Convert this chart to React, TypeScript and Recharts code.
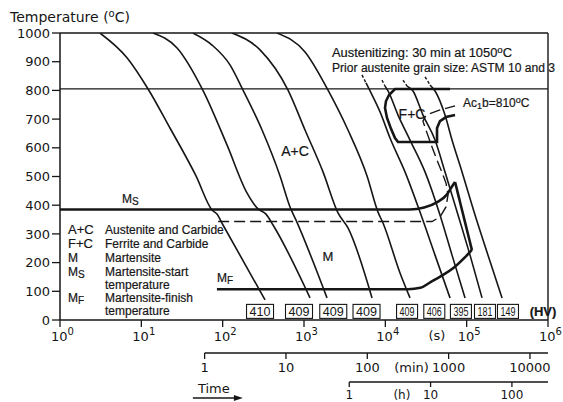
import React from "react";
import {
  ComposedChart,
  Line,
  Scatter,
  XAxis,
  YAxis,
  ReferenceLine,
  ReferenceDot,
} from "recharts";

// CCT diagram: time in seconds, temperature in °C
const curveA = [
  { t: 3.1, T: 1000 }, { t: 6.7, T: 913 }, { t: 12.1, T: 805 }, { t: 22.5, T: 669 },
  { t: 47, T: 502 }, { t: 74, T: 383 }, { t: 85, T: 369 }, { t: 101, T: 331 }, { t: 332, T: 70 },
];
const curveB = [
  { t: 13.9, T: 1000 }, { t: 27.5, T: 948 }, { t: 57, T: 801 }, { t: 113, T: 610 },
  { t: 199, T: 443 }, { t: 272, T: 387 }, { t: 341, T: 369 }, { t: 416, T: 331 }, { t: 1186, T: 77 },
];
const curveC = [
  { t: 43, T: 1000 }, { t: 74, T: 958 }, { t: 123, T: 889 }, { t: 178, T: 801 },
  { t: 305, T: 662 }, { t: 507, T: 502 }, { t: 673, T: 394 }, { t: 798, T: 348 }, { t: 1918, T: 77 },
];
const curveD = [
  { t: 130, T: 1000 }, { t: 288, T: 941 }, { t: 636, T: 801 }, { t: 1029, T: 662 },
  { t: 1713, T: 516 }, { t: 2618, T: 373 }, { t: 3474, T: 321 }, { t: 6860, T: 77 },
];
const curveE = [
  { t: 466, T: 1000 }, { t: 1029, T: 934 }, { t: 1973, T: 801 }, { t: 3474, T: 662 },
  { t: 5957, T: 502 }, { t: 8128, T: 376 }, { t: 9360, T: 338 }, { t: 15150, T: 164 }, { t: 20110, T: 77 },
];
const curveF = [
  { t: 5785, T: 826 }, { t: 6490, T: 798 }, { t: 8610, T: 725 }, { t: 11420, T: 634 },
  { t: 17460, T: 516 }, { t: 26690, T: 376 }, { t: 40840, T: 226 }, { t: 62400, T: 77 },
];
const curveG = [
  { t: 9910, T: 815 }, { t: 10790, T: 798 }, { t: 14320, T: 714 }, { t: 20110, T: 627 },
  { t: 30760, T: 516 }, { t: 47000, T: 366 }, { t: 66070, T: 226 }, { t: 95500, T: 77 },
];
const curveH = [
  { t: 18490, T: 815 }, { t: 21880, T: 798 }, { t: 29040, T: 714 }, { t: 40840, T: 627 },
  { t: 54190, T: 516 }, { t: 78300, T: 366 }, { t: 110000, T: 226 }, { t: 154500, T: 77 },
];
const curveI = [
  { t: 35420, T: 819 }, { t: 40840, T: 798 }, { t: 54190, T: 714 }, { t: 66070, T: 627 },
  { t: 87700, T: 516 }, { t: 126700, T: 366 }, { t: 183000, T: 226 }, { t: 272000, T: 77 },
];
const coolingCurves = [curveA, curveB, curveC, curveD, curveE, curveF, curveG, curveH, curveI];

// dashed starts of the slow curves
const leadF = [{ t: 5167, T: 854 }, { t: 5785, T: 826 }];
const leadG = [{ t: 9100, T: 836 }, { t: 9910, T: 815 }];
const leadH = [{ t: 16490, T: 836 }, { t: 18490, T: 815 }];
const leadI = [{ t: 30760, T: 847 }, { t: 35420, T: 819 }];
const leads = [leadF, leadG, leadH, leadI];

// martensite start / finish and the field boundaries
const msLine = [
  { t: 1, T: 385 }, { t: 20000, T: 385 }, { t: 30000, T: 392 }, { t: 43000, T: 410 },
  { t: 57000, T: 437 }, { t: 66000, T: 465 }, { t: 72000, T: 481 },
];
const mRight = [{ t: 72000, T: 481 }, { t: 116000, T: 244 }];
const mfLine = [
  { t: 85, T: 107 }, { t: 19000, T: 107 }, { t: 27000, T: 112 }, { t: 36000, T: 132 },
  { t: 52000, T: 158 }, { t: 68000, T: 180 }, { t: 95000, T: 218 }, { t: 116000, T: 244 },
];
const fcBoundary = [
  { t: 62400, T: 805 }, { t: 13150, T: 805 }, { t: 11100, T: 784 }, { t: 10190, T: 763 },
  { t: 9910, T: 739 }, { t: 10490, T: 704 }, { t: 11750, T: 666 }, { t: 13150, T: 634 },
  { t: 14320, T: 620 }, { t: 43200, T: 620 }, { t: 43200, T: 669 }, { t: 47000, T: 693 },
  { t: 55700, T: 707 }, { t: 72000, T: 714 },
];
const coarseGrain = [
  { t: 88, T: 343 }, { t: 37500, T: 343 }, { t: 47000, T: 359 }, { t: 55700, T: 394 },
  { t: 59000, T: 436 }, { t: 55700, T: 477 }, { t: 48400, T: 523 }, { t: 43200, T: 557 },
  { t: 37500, T: 603 }, { t: 32500, T: 652 }, { t: 29000, T: 693 }, { t: 31600, T: 714 },
  { t: 47000, T: 732 }, { t: 72000, T: 746 },
];

const ac1b = 805;
const hvValues = ["410", "409", "409", "409", "409", "406", "395", "181", "149"];
const hvTimes = [288, 868, 2290, 5870, 18500, 40000, 85000, 168000, 322000];
const hvLevel = 30;
const hvData = hvTimes.map((t, i) => ({ t, T: hvLevel, hv: hvValues[i] }));

const tempTicks = [0, 100, 200, 300, 400, 500, 600, 700, 800, 900, 1000];
const secTicks = [1, 10, 100, 1e3, 1e4, 1e5, 1e6];
const minTicks = [1, 10, 100, 1000, 10000];
const hourTicks = [1, 10, 100];
const secUnitAt = 43000;
const minUnitAt = 21000;
const hourUnitAt = 16000;
const timeLabelAt = 78;

const W = 563;
const H = 402;
const MARGIN = { top: 33, right: 15, left: 0, bottom: 0 };
const PLOT_RIGHT = W - MARGIN.right;
const INK = "#161616";
const FONT = "'Liberation Sans', Arial, Helvetica, sans-serif";
const NUM_FONT = "'DejaVu Sans', Verdana, sans-serif";
const TICK_OFF = 8; // tickSize + tickMargin

function SecTick(props: any) {
  const { x, y, payload } = props;
  const v = payload.value;
  const ay = y - TICK_OFF;
  if (v === secUnitAt) {
    return (
      <text x={x} y={ay + 20} textAnchor="middle" fontFamily={NUM_FONT} fontSize={13} fill={INK}>
        (s)
      </text>
    );
  }
  const exp = Math.round(Math.log10(v));
  return (
    <g>
      <line x1={x} x2={x} y1={ay} y2={ay + 7} stroke={INK} strokeWidth={1.3} />
      <text x={x - 9} y={ay + 21} fontFamily={NUM_FONT} fontSize={13} fill={INK}>
        10
        <tspan fontSize={10} dy={-6}>{exp}</tspan>
      </text>
    </g>
  );
}

function MinTick(props: any) {
  const { x, y, payload } = props;
  const v = payload.value;
  const ay = y - TICK_OFF;
  if (v === minUnitAt) {
    return (
      <text x={x} y={ay + 19} textAnchor="middle" fontFamily={NUM_FONT} fontSize={13} fill={INK}>
        (min)
      </text>
    );
  }
  return (
    <g>
      {v === minTicks[0] * 60 && (
        <line x1={x} x2={PLOT_RIGHT} y1={ay} y2={ay} stroke={INK} strokeWidth={1.5} />
      )}
      <line x1={x} x2={x} y1={ay} y2={ay + 6} stroke={INK} strokeWidth={1.3} />
      <text x={x} y={ay + 19} textAnchor="middle" fontFamily={NUM_FONT} fontSize={13} fill={INK}>
        {v / 60}
      </text>
    </g>
  );
}

function HourTick(props: any) {
  const { x, y, payload } = props;
  const v = payload.value;
  const ay = y - TICK_OFF;
  if (v === timeLabelAt) {
    return (
      <g>
        <text x={x} y={ay + 11} textAnchor="middle" fontFamily={NUM_FONT} fontSize={13} fill={INK}>
          Time
        </text>
        <line x1={x - 21} x2={x + 22} y1={ay + 16} y2={ay + 16} stroke={INK} strokeWidth={1.3} />
        <path d={`M${x + 29},${ay + 16} l-9,-3 v6 z`} fill={INK} />
      </g>
    );
  }
  if (v === hourUnitAt) {
    return (
      <text x={x} y={ay + 17} textAnchor="middle" fontFamily={NUM_FONT} fontSize={12} fill={INK}>
        (h)
      </text>
    );
  }
  return (
    <g>
      {v === hourTicks[0] * 3600 && (
        <line x1={x} x2={PLOT_RIGHT} y1={ay} y2={ay} stroke={INK} strokeWidth={1.5} />
      )}
      <line x1={x} x2={x} y1={ay} y2={ay + 5} stroke={INK} strokeWidth={1.3} />
      <text x={x} y={ay + 17} textAnchor="middle" fontFamily={NUM_FONT} fontSize={12} fill={INK}>
        {v / 3600}
      </text>
    </g>
  );
}

function HvBox(props: any) {
  const { cx, cy, payload } = props;
  if (cx == null || cy == null || !payload) return null;
  const i = hvTimes.indexOf(payload.t);
  const w = i < 4 ? 27 : 21;
  const h = 14;
  return (
    <g>
      <rect x={cx - w / 2} y={cy - h / 2} width={w} height={h} fill="#fff" stroke={INK} strokeWidth={1.1} />
      <text
        x={cx}
        y={cy + 4.5}
        textAnchor="middle"
        fontFamily={FONT}
        fontSize={13}
        fill={INK}
        textLength={w - 6}
        lengthAdjust="spacingAndGlyphs"
      >
        {payload.hv}
      </text>
    </g>
  );
}

function note(key: string, t: number, T: number, draw: (x: number, y: number) => React.ReactNode) {
  return (
    <ReferenceDot
      key={key}
      x={t}
      y={T}
      r={0}
      fill="none"
      stroke="none"
      ifOverflow="visible"
      label={(p: any) => <g>{draw(p?.viewBox?.x ?? 0, p?.viewBox?.y ?? 0)}</g>}
    />
  );
}

const txt = { fill: INK, fontFamily: FONT, fontSize: 12, stroke: INK, strokeWidth: 0.2 };

export default function App() {
  return (
    <div style={{ position: "absolute", left: 0, top: 0, background: "#fff" }}>
      <ComposedChart width={W} height={H} margin={MARGIN}>
        <XAxis
          dataKey="t"
          type="number"
          scale="log"
          domain={[1, 1e6]}
          allowDataOverflow
          ticks={[...secTicks, secUnitAt]}
          interval={0}
          tickSize={6}
          tickMargin={2}
          tickLine={false}
          axisLine={{ stroke: INK, strokeWidth: 1.5 }}
          tick={<SecTick />}
          height={33}
        />
        <XAxis
          xAxisId="x2min"
          dataKey="t"
          type="number"
          scale="log"
          domain={[1, 1e6]}
          allowDataOverflow
          ticks={[...minTicks.map((m) => m * 60), minUnitAt]}
          interval={0}
          tickSize={6}
          tickMargin={2}
          tickLine={false}
          axisLine={false}
          tick={<MinTick />}
          height={29}
        />
        <XAxis
          xAxisId="x3h"
          dataKey="t"
          type="number"
          scale="log"
          domain={[1, 1e6]}
          allowDataOverflow
          ticks={[timeLabelAt, ...hourTicks.map((h) => h * 3600), hourUnitAt]}
          interval={0}
          tickSize={6}
          tickMargin={2}
          tickLine={false}
          axisLine={false}
          tick={<HourTick />}
          height={20}
        />
        <YAxis
          dataKey="T"
          type="number"
          domain={[0, 1000]}
          allowDataOverflow
          ticks={tempTicks}
          interval={0}
          width={60}
          tickSize={8}
          tickMargin={2}
          tickLine={{ stroke: INK, strokeWidth: 1.3 }}
          axisLine={{ stroke: INK, strokeWidth: 1.5 }}
          tick={{ fontSize: 13, fill: INK, fontFamily: NUM_FONT }}
        />

        <ReferenceLine y={1000} stroke={INK} strokeWidth={1.4} />
        <ReferenceLine x={1e6} stroke={INK} strokeWidth={1.4} />
        <ReferenceLine y={ac1b} stroke={INK} strokeWidth={1.3} />

        {coolingCurves.map((c, i) => (
          <Line
            key={`c${i}`}
            data={c}
            dataKey="T"
            type="monotone"
            dot={false}
            activeDot={false}
            stroke={INK}
            strokeWidth={1.6}
            isAnimationActive={false}
          />
        ))}
        {leads.map((c, i) => (
          <Line
            key={`l${i}`}
            data={c}
            dataKey="T"
            type="linear"
            dot={false}
            activeDot={false}
            stroke={INK}
            strokeWidth={1.4}
            strokeDasharray="3 2"
            isAnimationActive={false}
          />
        ))}
        <Line data={coarseGrain} dataKey="T" type="linear" dot={false} activeDot={false}
          stroke={INK} strokeWidth={1.4} strokeDasharray="11 5" isAnimationActive={false} />
        <Line data={msLine} dataKey="T" type="monotone" dot={false} activeDot={false}
          stroke={INK} strokeWidth={2.6} isAnimationActive={false} />
        <Line data={mRight} dataKey="T" type="linear" dot={false} activeDot={false}
          stroke={INK} strokeWidth={2.6} isAnimationActive={false} />
        <Line data={mfLine} dataKey="T" type="monotone" dot={false} activeDot={false}
          stroke={INK} strokeWidth={2.6} isAnimationActive={false} />
        <Line data={fcBoundary} dataKey="T" type="linear" dot={false} activeDot={false}
          stroke={INK} strokeWidth={2.6} isAnimationActive={false} />

        <Scatter data={hvData} dataKey="T" isAnimationActive={false} shape={(p: any) => <HvBox {...p} />} />

        {note("title", 1, 1000, (x, y) => (
          <text x={x - 50} y={y - 11} fill={INK} fontFamily={NUM_FONT} fontSize={14}>
            Temperature (<tspan fontSize={10} dy={-5}>o</tspan>
            <tspan dy={5}>C)</tspan>
          </text>
        ))}
        {note("aust", 2211, 916, (x, y) => (
          <g>
            <text x={x} y={y} {...txt} textLength={180} lengthAdjust="spacingAndGlyphs">
              Austenitizing: 30 min at 1050<tspan fontSize={9} dy={-4}>o</tspan>
              <tspan dy={4}>C</tspan>
            </text>
            <text x={x} y={y + 15} {...txt} textLength={223} lengthAdjust="spacingAndGlyphs">
              Prior austenite grain size: ASTM 10 and 3
            </text>
          </g>
        ))}
        {note("ac1b", 90200, 742, (x, y) => (
          <text x={x} y={y} {...txt}>
            Ac<tspan fontSize={9} dy={2}>1</tspan>
            <tspan dy={-2}>b=810</tspan>
            <tspan fontSize={9} dy={-4}>o</tspan>
            <tspan dy={4}>C</tspan>
          </text>
        ))}
        {note("ac", 775, 571, (x, y) => (
          <text x={x} y={y} textAnchor="middle" {...txt} fontSize={14}>A+C</text>
        ))}
        {note("m", 1973, 206, (x, y) => (
          <text x={x} y={y} textAnchor="middle" {...txt} fontSize={13}>M</text>
        ))}
        {note("fc", 21300, 700, (x, y) => (
          <text x={x} y={y} textAnchor="middle" {...txt} fontSize={14}>F+C</text>
        ))}
        {note("mf", 85, 132, (x, y) => (
          <text x={x} y={y} {...txt}>
            M<tspan fontSize={10} dy={2}>F</tspan>
          </text>
        ))}
        {note("ms", 5.8, 408, (x, y) => (
          <text x={x} y={y} {...txt}>
            M<tspan fontSize={10} dy={2}>S</tspan>
          </text>
        ))}
        {note("hv", 868000, 14, (x, y) => (
          <text x={x} y={y} textAnchor="middle" {...txt} fontSize={13} fontWeight="bold">(HV)</text>
        ))}
        {note("legend", 1, 314, (x, y) => {
          const l = x + 8;
          const r = x + 45;
          return (
            <g>
              <text x={l} y={y + 4} {...txt} fontSize={13}>A+C</text>
              <text x={r} y={y + 4} {...txt}>Austenite and Carbide</text>
              <text x={l} y={y + 18} {...txt} fontSize={13}>F+C</text>
              <text x={r} y={y + 18} {...txt}>Ferrite and Carbide</text>
              <text x={l} y={y + 32} {...txt}>M</text>
              <text x={r} y={y + 32} {...txt}>Martensite</text>
              <text x={l} y={y + 46} {...txt}>
                M<tspan fontSize={10} dy={2}>S</tspan>
              </text>
              <text x={r} y={y + 46} {...txt}>Martensite-start</text>
              <text x={r} y={y + 59} {...txt}>temperature</text>
              <text x={l} y={y + 72} {...txt}>
                M<tspan fontSize={10} dy={2}>F</tspan>
              </text>
              <text x={r} y={y + 72} {...txt}>Martensite-finish</text>
              <text x={r} y={y + 85} {...txt}>temperature</text>
            </g>
          );
        })}
      </ComposedChart>
    </div>
  );
}
